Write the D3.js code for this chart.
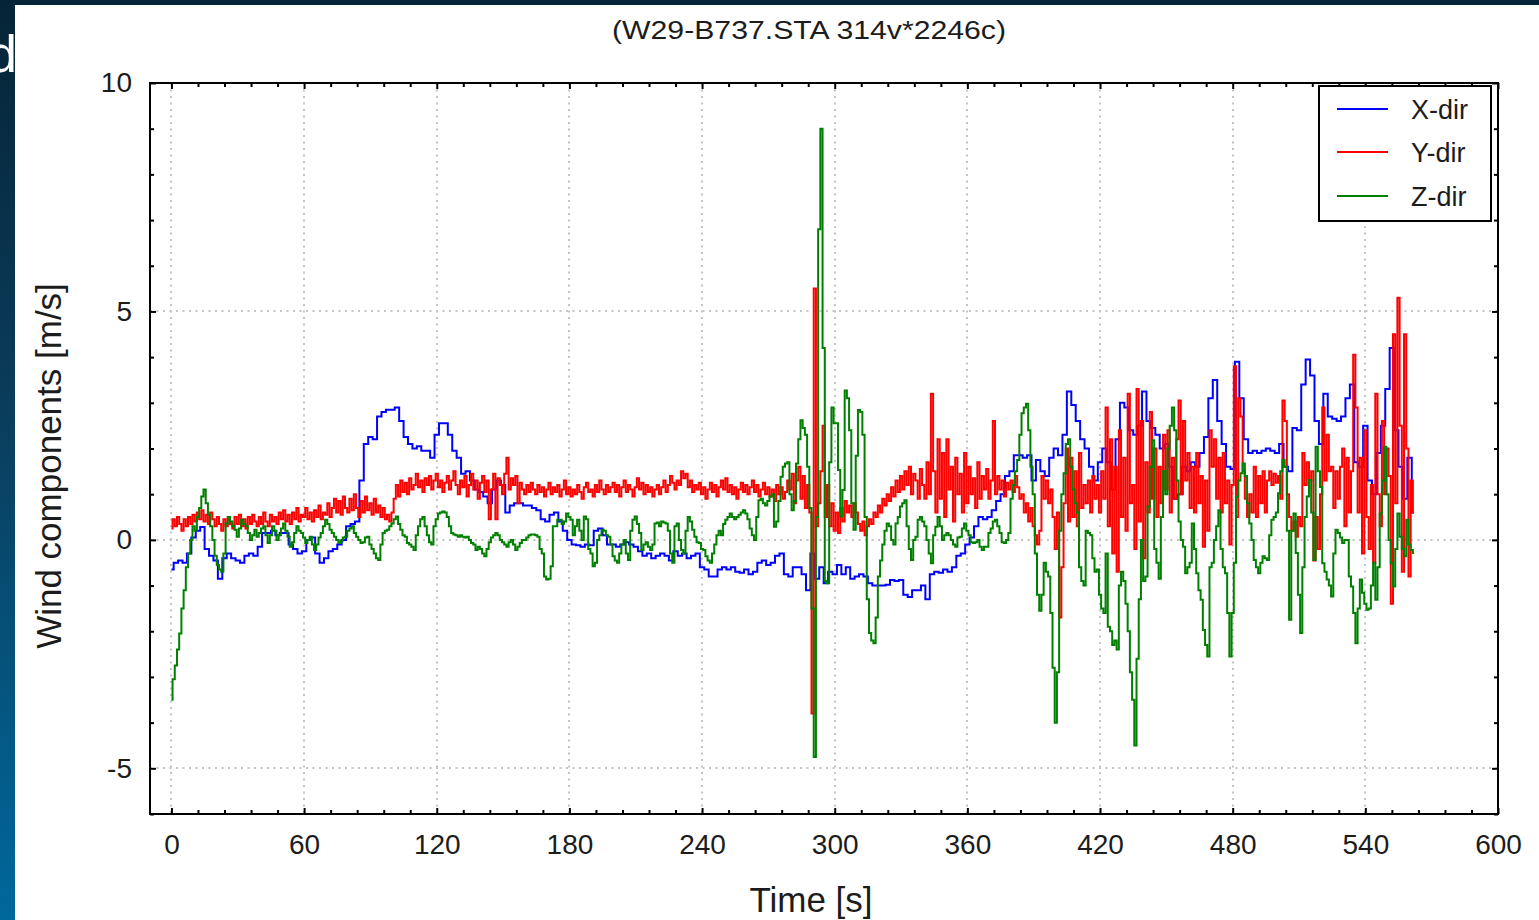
<!DOCTYPE html>
<html>
<head>
<meta charset="utf-8">
<script src="https://cdn.jsdelivr.net/npm/d3@7"></script>
<style>
  html, body { margin: 0; padding: 0; background: #ffffff; }
  svg { display: block; }
</style>
</head>
<body>
<svg id="chart" width="1539" height="920"></svg>
<script>
// ---- labels ----
const chartTitle = "(W29-B737.STA 314v*2246c)";
const xAxisTitle = "Time [s]";
const yAxisTitle = "Wind components [m/s]";
const seriesNames = ["X-dir", "Y-dir", "Z-dir"];
const seriesColors = ["#0000ff", "#ff0000", "#008000"];

// ---- ticks ----
const xMajorTicks = [0, 60, 120, 180, 240, 300, 360, 420, 480, 540, 600];
const yMajorTicks = [-5, 0, 5, 10];
const xMinorStep = 12;
const yMinorStep = 1;

// ---- sample spacing (s) of each series ----
const xDirStep = 2;
const yDirStep = 1;
const zDirStep = 1;

// X-dir wind component [m/s], one value every 2 s from t = 0
const xDir = [
  -0.65, -0.5, -0.45, -0.5, -0.3, 0.05, 0.2, 0.28, -0.2, -0.35,
  -0.45, -0.85, -0.4, -0.3, -0.4, -0.45, -0.5, -0.35, -0.3, -0.35,
  -0.15, 0.15, 0.15, 0.2, 0.1, 0.15, 0.15, -0.1, -0.2, -0.3,
  -0.25, 0.0, 0.05, -0.3, -0.5, -0.4, -0.25, -0.2, -0.1, 0.0,
  0.3, 0.35, 0.4, 1.3, 2.1, 2.25, 2.2, 2.7, 2.8, 2.85,
  2.85, 2.9, 2.6, 2.25, 2.1, 2.0, 2.05, 1.95, 1.95, 1.8,
  2.3, 2.55, 2.55, 2.3, 1.95, 1.8, 1.45, 1.5, 1.3, 1.1,
  1.05, 0.95, 0.8, 1.1, 1.3, 1.2, 0.6, 0.75, 0.8, 0.8,
  0.75, 0.75, 0.7, 0.65, 0.45, 0.4, 0.55, 0.6, 0.4, 0.2,
  0.0, -0.1, -0.12, -0.15, -0.1, -0.12, 0.2, 0.25, 0.1, -0.1,
  -0.1, -0.15, -0.1, -0.05, -0.1, -0.15, -0.25, -0.35, -0.3, -0.4,
  -0.35, -0.3, -0.35, -0.45, -0.25, -0.35, -0.3, -0.4, -0.35, -0.3,
  -0.6, -0.65, -0.8, -0.8, -0.65, -0.6, -0.65, -0.6, -0.7, -0.72,
  -0.65, -0.75, -0.7, -0.5, -0.45, -0.55, -0.5, -0.35, -0.3, -0.75,
  -0.8, -0.6, -0.6, -0.75, -1.1, -0.3, -0.85, -0.6, -0.95, -0.7,
  -0.75, -0.55, -0.75, -0.6, -0.85, -0.8, -0.75, -0.8, -0.95, -1.0,
  -1.0, -1.0, -0.98, -0.88, -0.9, -0.88, -1.2, -1.25, -1.1, -1.1,
  -1.0, -1.3, -0.75, -0.7, -0.72, -0.65, -0.7, -0.6, -0.35, -0.3,
  -0.1, 0.05, 0.3, 0.5, 0.45, 0.5, 0.65, 0.85, 1.0, 1.4,
  1.5, 1.85, 1.85, 1.8, 1.85, 1.3, 1.75, 1.5, 1.4, 1.8,
  2.0, 1.85, 2.3, 3.25, 2.95, 2.6, 2.2, 2.0, 1.6, 1.3,
  1.7, 2.0, 1.7, 1.1, 2.2, 3.0, 2.9, 2.4, 2.3, 2.5,
  3.25, 2.6, 2.45, 2.3, 2.0, 2.1, 1.6, 0.9, 1.0, 1.6,
  1.5, 1.7, 1.6, 1.9, 2.25, 3.1, 3.5, 2.6, 2.1, 1.6,
  1.55, 3.9, 3.1, 2.2, 1.9, 1.95, 1.9, 1.95, 2.0, 1.95,
  1.9, 2.1, 1.6, 1.5, 2.45, 2.4, 3.4, 3.95, 3.6, 2.6,
  2.1, 3.2, 2.7, 2.65, 2.6, 2.7, 3.1, 3.4, 1.7, 1.6,
  2.5, 1.3, 1.0, 1.9, 2.5, 3.3, 4.2, 2.4, 1.6, 0.9,
  1.8, 0.6
];

// Y-dir wind component [m/s], one value every 1 s from t = 0
const yDir = [
  0.25, 0.45, 0.3, 0.5, 0.35, 0.2, 0.45, 0.3, 0.5, 0.35,
  0.55, 0.4, 0.6, 0.45, 0.65, 0.4, 0.55, 0.35, 0.6, 0.45,
  0.3, 0.5, 0.35, 0.2, 0.45, 0.3, 0.5, 0.35, 0.25, 0.5,
  0.35, 0.55, 0.3, 0.45, 0.25, 0.5, 0.35, 0.55, 0.4, 0.3,
  0.5, 0.35, 0.6, 0.4, 0.3, 0.55, 0.4, 0.5, 0.35, 0.6,
  0.45, 0.65, 0.4, 0.55, 0.35, 0.6, 0.45, 0.7, 0.4, 0.55,
  0.5, 0.7, 0.45, 0.6, 0.4, 0.65, 0.5, 0.75, 0.45, 0.6,
  0.55, 0.8, 0.5, 0.7, 0.9, 0.6, 0.85, 0.55, 0.95, 0.7,
  0.6, 0.9, 0.65, 1.0, 0.7, 0.5, 0.85, 0.6, 0.95, 0.65,
  0.8, 0.55, 0.9, 0.6, 0.75, 0.5, 0.7, 0.45, 0.55, 0.4,
  0.6, 0.9, 1.2, 0.95, 1.3, 1.05, 1.25, 1.0, 1.35, 1.1,
  1.2, 1.45, 1.15, 1.3, 1.05, 1.35, 1.2, 1.4, 1.1, 1.3,
  1.45, 1.15, 1.3, 1.05, 1.25, 1.4, 1.1, 1.3, 1.5, 1.2,
  1.0, 1.3, 1.15, 1.4, 0.95, 1.2, 1.45, 1.1, 1.3, 0.9,
  1.25, 1.4, 1.05, 1.3, 0.45, 1.1, 1.45, 0.45, 1.35, 1.2,
  1.0, 1.45, 1.8, 1.1, 1.35, 1.2, 1.4, 0.8, 1.25, 1.1,
  1.0, 1.2, 1.05, 1.25, 1.1, 1.0, 1.2, 1.05, 1.15, 0.95,
  1.1, 1.25, 1.0, 1.15, 1.05, 1.2, 0.95, 1.1, 1.3, 1.0,
  1.15, 0.95, 1.1, 1.0, 1.2, 1.05, 0.9, 1.15, 1.25, 1.05,
  1.1, 0.95, 1.2, 1.05, 1.3, 1.1, 1.0, 1.2, 1.05, 1.15,
  1.25, 1.05, 1.2, 0.95, 1.15, 1.3, 1.05, 1.2, 1.1, 0.95,
  1.15, 1.35, 1.1, 1.25, 1.0, 1.2, 1.05, 1.15, 0.95, 1.1,
  1.2, 1.0, 1.15, 1.3, 1.05, 1.2, 1.4, 1.25, 1.1, 1.3,
  1.2, 1.5, 1.35, 1.45, 1.15, 1.3, 1.05, 1.2, 1.1, 1.25,
  1.0, 1.15, 0.9, 1.1, 1.25, 1.05, 1.2, 0.95, 1.15, 1.3,
  1.1, 1.35, 1.05, 1.2, 1.0, 1.15, 0.9, 1.1, 1.25, 1.05,
  1.2, 1.0, 1.15, 1.3, 1.05, 1.2, 0.95, 1.1, 1.25, 1.0,
  1.15, 0.95, 1.1, 0.85, 1.2, 1.0, 1.15, 0.9, 1.05, 1.3,
  1.1, 1.45, 0.8, 1.3, 1.6, 0.9, 1.4, 0.7, 1.2, 0.6,
  -3.8, 5.5, 0.3, 0.8, 1.5, 2.5, 0.5, 1.2, 0.3, 0.8,
  0.2, 0.6, 0.15, 0.7, 0.4, 0.85, 0.6, 0.75, 0.5, 0.8,
  0.6, 0.35, 0.2, 0.4, 0.1, 0.3, 0.45, 0.35, 0.6, 0.5,
  0.75, 0.6, 0.9, 0.75, 1.0, 0.85, 1.15, 0.95, 1.3, 1.05,
  1.4, 1.1, 1.5, 1.2, 1.6, 1.0, 1.45, 1.3, 0.9, 1.55,
  1.2, 0.9, 1.7, 1.0, 3.2, 1.5, 0.6, 2.2, 0.9, 1.9,
  0.5, 2.2, 1.1, 1.6, 0.4, 1.8, 1.0, 1.45, 0.6, 1.9,
  0.8, 1.6, 1.0, 1.35, 0.7, 1.7, 0.9, 1.4, 1.1, 1.55,
  0.9, 1.3, 2.6, 1.0, 1.4, 1.1, 1.3, 0.95, 1.25, 1.1,
  1.3, 1.05, 1.4, 1.15, 0.9, 1.0, 0.6, 0.8, 0.4, 0.7,
  0.3, 0.1, -0.1, 0.2, 1.4, 0.9, 1.3, 0.8, 1.1, 0.5,
  -0.2, 0.6, -1.7, -0.6, 0.8, 2.0, 0.4, 1.8, 0.5, 1.5,
  0.3, 1.9, 0.7, 1.2, 0.8, 1.3, 0.6, 1.4, 0.9, 1.2,
  0.6, 1.5, 0.9, 2.9, 0.3, 2.2, -0.3, 1.6, -0.7, 2.4,
  0.5, 1.8, 0.2, 3.2, 0.8, 1.2, -0.2, 3.3, 0.4, 2.6,
  -0.4, 1.7, 0.6, 2.8, 0.9, 2.0, 0.5, 1.6, 0.8, 2.3,
  1.1, 2.4, 0.6, 1.8, 0.9, 2.2, 3.05, 1.0, 2.6, 1.3,
  1.9, 0.7, 1.6, 0.6, 1.9, 0.8, 1.4, -0.15, 1.3, 0.2,
  2.4, 1.6, 2.2, 0.9, 1.8, 0.6, 1.9, 0.8, 1.3, -0.1,
  1.2, 3.8, 0.5, 3.1, 2.7, 1.5, 0.9, 0.5, 1.0, 0.6,
  1.6, 0.5, 1.4, 0.8, 1.5, 0.6, 1.3, 1.5, 1.2, 1.45,
  1.25, 1.4, 0.9, 3.05, 2.6, 1.0, 0.5, 0.2, 0.4, 0.07,
  0.5, 0.3, 1.9, 1.2, 1.7, 1.3, 1.5, -0.45, 0.5, -0.2,
  1.0, 2.9, 1.3, 2.3, 1.5, 1.6, 0.7, 1.5, 0.9, 1.6,
  2.0, 0.3, 1.8, 0.6, 1.5, 4.05, 2.9, 0.6, 1.8, -0.3,
  2.4, 0.5, -0.2, 1.2, -0.5, 3.2, 1.0, 0.3, 2.6, 1.0,
  2.0, 1.4, -1.4, 4.5, 0.8, 5.3, 2.5, -0.7, 4.5, 2.0,
  -0.8, 1.3, 0.6
];

// Z-dir wind component [m/s], one value every 1 s from t = 0
const zDir = [
  -3.5, -3.05, -2.75, -2.4, -2.05, -1.5, -1.1, -0.6, -0.3, 0.0,
  0.3, 0.2, 0.5, 0.7, 0.95, 1.1, 0.8, 0.55, 0.3, 0.0,
  -0.35, -0.55, -0.65, -0.7, -0.3, 0.36, 0.5, 0.4, 0.3, 0.22,
  0.07, 0.25, 0.44, 0.35, 0.3, 0.15, 0.0, 0.1, 0.22, 0.07,
  0.15, 0.25, 0.3, 0.1, -0.07, 0.1, 0.3, 0.2, 0.0, 0.1,
  0.25, 0.36, 0.2, 0.07, -0.15, -0.05, 0.15, 0.3, 0.2, 0.15,
  0.05, -0.07, 0.0, 0.07, -0.1, -0.22, -0.1, 0.05, 0.15, 0.3,
  0.44, 0.35, 0.22, 0.15, 0.07, 0.0, -0.07, -0.02, 0.05, 0.07,
  0.2, 0.25, 0.3, 0.15, 0.07, 0.0, -0.07, -0.05, 0.05, 0.07,
  -0.1, -0.2, -0.3, -0.4, -0.44, -0.1, 0.15, 0.2, 0.22, 0.3,
  0.36, 0.45, 0.51, 0.35, 0.22, 0.1, 0.07, -0.07, -0.1, -0.15,
  -0.22, 0.1, 0.3, 0.45, 0.5, 0.3, 0.1, -0.05, -0.1, 0.3,
  0.45, 0.58, 0.6, 0.62, 0.6, 0.5, 0.3, 0.15, 0.12, 0.1,
  0.07, 0.1, 0.07, 0.05, 0.07, 0.0, -0.07, -0.1, -0.22, -0.15,
  -0.2, -0.3, -0.36, -0.2, -0.05, 0.05, 0.1, 0.15, 0.1, 0.0,
  -0.05, -0.1, -0.15, -0.05, 0.0, -0.1, -0.22, -0.15, -0.07, 0.0,
  0.0, 0.05, 0.1, 0.12, 0.12, 0.1, 0.07, -0.2, -0.3, -0.8,
  -0.87, -0.85, -0.58, 0.3, 0.3, 0.44, 0.44, 0.35, 0.4, 0.58,
  0.5, 0.44, 0.1, 0.3, 0.44, 0.2, 0.0, 0.51, 0.45, -0.2,
  -0.3, -0.58, -0.5, 0.0, 0.1, 0.22, 0.2, 0.1, 0.07, -0.1,
  -0.36, -0.45, -0.5, -0.3, -0.1, 0.0, -0.3, -0.44, 0.2, 0.44,
  0.51, 0.35, 0.15, -0.22, -0.1, -0.05, -0.15, -0.22, -0.1, 0.36,
  0.38, 0.3, 0.4, 0.38, 0.36, 0.2, -0.3, -0.5, 0.3, 0.36,
  0.0, -0.22, -0.3, 0.2, 0.5, 0.4, 0.22, 0.07, -0.05, -0.07,
  -0.2, -0.22, -0.36, -0.45, -0.5, -0.3, -0.1, 0.1, 0.2, 0.1,
  0.35, 0.44, 0.5, 0.58, 0.5, 0.45, 0.5, 0.55, 0.6, 0.65,
  0.58, 0.45, 0.25, 0.1, 0.0, 0.5, 0.87, 0.9, 0.8, 0.75,
  0.85, 0.95, 1.0, 0.29, 0.4, 0.85, 1.38, 1.6, 1.67, 1.7,
  1.0, 0.65, 0.85, 1.67, 2.2, 2.62, 2.45, 2.3, 1.6, 0.7,
  -1.5, -4.75, 0.5, 6.8, 9.0, 4.2, -0.9, -0.95, 1.7, 2.9,
  2.55, 2.55, 1.53, 0.51, 1.09, 3.27, 3.1, 2.4, 0.8, 0.22,
  1.84, 2.84, 2.8, 2.3, 0.5, -1.3, -2.04, -2.2, -2.26, -1.7,
  -0.8, -0.45, -0.1, 0.2, 0.36, 0.3, 0.0, -0.1, 0.36, 0.5,
  0.73, 0.8, 0.87, 0.3, -0.2, -0.44, 0.0, 0.07, 0.44, 0.5,
  0.4, 0.3, 0.0, -0.3, -0.51, 0.1, 0.29, 0.5, 0.3, 0.0,
  0.1, 0.15, 0.1, 0.0, -0.1, -0.15, 0.05, 0.07, 0.25, 0.36,
  0.2, 0.1, -0.05, -0.07, -0.05, 0.0, -0.15, -0.22, -0.15, -0.15,
  0.15, 0.25, 0.4, 0.44, 0.3, 0.15, -0.05, -0.07, 0.0, 0.15,
  0.9, 1.2, 1.5, 1.75, 2.3, 2.77, 2.9, 2.98, 2.4, 1.6,
  1.0, -0.3, -1.2, -1.55, -1.2, -0.5, -0.7, -0.8, -1.6, -2.8,
  -4.0, -2.9, 0.2, 1.0, 1.46, 2.1, 2.2, 1.6, 1.1, 0.8,
  0.6, -0.6, -0.9, -1.0, 0.2, 0.15, 0.1, -0.4, -0.7, -0.65,
  -1.2, -1.5, -1.6, -0.3, -1.9, -2.0, -2.3, -2.2, -2.4, -1.0,
  -0.7, -0.9, -1.4, -2.0, -2.9, -3.5, -4.5, -2.6, -1.3, 0.0,
  -0.9, -0.8, 0.73, 1.6, 2.18, -0.2, -0.5, -0.85, 0.5, 1.5,
  1.0, 2.0, 2.5, 2.9, 2.4, 1.3, 0.4, 0.0, -0.15, -0.73,
  -0.6, -0.5, 0.36, -0.2, -0.73, -1.1, -1.31, -1.97, -2.3, -2.55,
  -0.6, -0.5, 0.0, 0.3, 0.65, -0.2, -0.6, -0.73, -1.6, -2.55,
  -1.6, -0.5, 0.95, 1.3, 1.46, 1.67, 1.4, 0.8, 0.36, 0.0,
  -0.44, -0.6, -0.73, -0.5, -0.36, -0.4, -0.44, 0.1, 0.44, 0.5,
  0.6, 1.02, 1.5, 1.75, 1.6, 0.2, -1.75, 0.2, 0.58, -0.29,
  -1.2, -2.04, -0.6, 0.5, 0.95, 1.31, 0.6, -0.44, 2.04, 1.5,
  1.16, -0.51, -0.7, -0.87, -1.0, -1.24, -0.3, 0.22, 0.15, 0.05,
  -0.07, 0.0, 0.0, -0.8, -1.02, -1.6, -2.26, -1.5, -0.87, -1.16,
  -1.4, -1.53, -1.5, -1.0, -0.5, -1.31, -0.6, 0.58, 1.3, 2.04,
  1.0, 0.0, -0.51, -1.02, -0.2, 0.58, 0.07, -0.2, -0.36, 0.44,
  -0.1, -0.22, -0.29
];

// ---------------------------------------------------------------
const svg = d3.select("#chart");
const W = 1539, H = 920;
const plot = { left: 150, right: 1498, top: 83, bottom: 814 };
const font = "'Liberation Sans', Arial, sans-serif";
const ink = "#1c1c1c";

// slide backdrop behind the white chart panel
const defs = svg.append("defs");
const grad = defs.append("linearGradient").attr("id", "slideBg")
  .attr("x1", 0).attr("y1", 0).attr("x2", 0).attr("y2", 1);
grad.append("stop").attr("offset", "0%").attr("stop-color", "#062437");
grad.append("stop").attr("offset", "45%").attr("stop-color", "#0a3d5c");
grad.append("stop").attr("offset", "100%").attr("stop-color", "#00689c");
svg.append("rect").attr("width", W).attr("height", H).attr("fill", "url(#slideBg)");
svg.append("text")
  .attr("x", 17).attr("y", 72)
  .attr("text-anchor", "end")
  .attr("font-family", font).attr("font-size", 52)
  .attr("fill", "#ffffff")
  .text("d");
svg.append("rect").attr("x", 15).attr("y", 5).attr("width", W - 15).attr("height", H - 5)
  .attr("fill", "#ffffff");

// scales
const x = d3.scaleLinear().domain([-9.7, 600]).range([plot.left, plot.right]);
const y = d3.scaleLinear().domain([-6, 10]).range([plot.bottom, plot.top]);

const xMinorTicks = d3.range(0, 600 + 1e-9, xMinorStep).filter(v => v % 60 !== 0);
const yMinorTicks = d3.range(-6, 10 + 1e-9, yMinorStep).filter(v => v % 5 !== 0);
const plainNumber = d => String(d);

// dotted grid
const grid = svg.append("g")
  .attr("stroke", "#c4c4c4").attr("stroke-width", 2)
  .attr("stroke-dasharray", "2,4.5");
grid.selectAll(".gx").data(xMajorTicks.filter(v => v < 600)).enter().append("line")
  .attr("x1", d => Math.round(x(d))).attr("x2", d => Math.round(x(d)))
  .attr("y1", plot.top).attr("y2", plot.bottom);
grid.selectAll(".gy").data(yMajorTicks.filter(v => v < 10)).enter().append("line")
  .attr("y1", d => Math.round(y(d))).attr("y2", d => Math.round(y(d)))
  .attr("x1", plot.left).attr("x2", plot.right);

// series, drawn as sample-and-hold steps
defs.append("clipPath").attr("id", "plotClip").append("rect")
  .attr("x", plot.left).attr("y", plot.top)
  .attr("width", plot.right - plot.left).attr("height", plot.bottom - plot.top);

const series = [
  { name: seriesNames[0], color: seriesColors[0], step: xDirStep, values: xDir },
  { name: seriesNames[1], color: seriesColors[1], step: yDirStep, values: yDir },
  { name: seriesNames[2], color: seriesColors[2], step: zDirStep, values: zDir }
];
const line = d3.line().curve(d3.curveStep).x(d => x(d[0])).y(d => y(d[1]));
const lines = svg.append("g").attr("clip-path", "url(#plotClip)");
series.forEach(s => {
  const pts = s.values.map((v, i) => [i * s.step, v]);
  lines.append("path")
    .datum(pts)
    .attr("fill", "none")
    .attr("stroke", s.color)
    .attr("stroke-width", 2)
    .attr("stroke-linejoin", "miter")
    .attr("d", line);
});

// axes: ticks point inward on all four sides
function styleAxis(g) {
  g.select(".domain").remove();
  g.selectAll(".tick line").attr("stroke", "#000").attr("stroke-width", 2);
  g.selectAll("text").attr("font-family", font).attr("font-size", 28).attr("fill", ink);
}
svg.append("g").attr("transform", `translate(0,${plot.bottom})`)
  .call(d3.axisBottom(x).tickValues(xMajorTicks).tickSize(-6).tickPadding(20).tickFormat(plainNumber))
  .call(styleAxis);
svg.append("g").attr("transform", `translate(0,${plot.bottom})`)
  .call(d3.axisBottom(x).tickValues(xMinorTicks).tickSize(-4).tickFormat(""))
  .call(styleAxis);
svg.append("g").attr("transform", `translate(0,${plot.top})`)
  .call(d3.axisTop(x).tickValues(xMajorTicks).tickSize(-6).tickFormat(""))
  .call(styleAxis);
svg.append("g").attr("transform", `translate(0,${plot.top})`)
  .call(d3.axisTop(x).tickValues(xMinorTicks).tickSize(-4).tickFormat(""))
  .call(styleAxis);
svg.append("g").attr("transform", `translate(${plot.left},0)`)
  .call(d3.axisLeft(y).tickValues(yMajorTicks).tickSize(-6).tickPadding(18).tickFormat(plainNumber))
  .call(styleAxis);
svg.append("g").attr("transform", `translate(${plot.left},0)`)
  .call(d3.axisLeft(y).tickValues(yMinorTicks).tickSize(-4).tickFormat(""))
  .call(styleAxis);
svg.append("g").attr("transform", `translate(${plot.right},0)`)
  .call(d3.axisRight(y).tickValues(yMajorTicks).tickSize(-6).tickFormat(""))
  .call(styleAxis);
svg.append("g").attr("transform", `translate(${plot.right},0)`)
  .call(d3.axisRight(y).tickValues(yMinorTicks).tickSize(-4).tickFormat(""))
  .call(styleAxis);

// frame
svg.append("rect")
  .attr("x", plot.left).attr("y", plot.top)
  .attr("width", plot.right - plot.left).attr("height", plot.bottom - plot.top)
  .attr("fill", "none").attr("stroke", "#000").attr("stroke-width", 2);

// titles
svg.append("text")
  .attr("x", 809).attr("y", 39)
  .attr("text-anchor", "middle")
  .attr("font-family", font).attr("font-size", 25).attr("fill", ink)
  .attr("textLength", 394).attr("lengthAdjust", "spacingAndGlyphs")
  .text(chartTitle);
svg.append("text")
  .attr("x", 811).attr("y", 912)
  .attr("text-anchor", "middle")
  .attr("font-family", font).attr("font-size", 35).attr("fill", ink)
  .text(xAxisTitle);
svg.append("text")
  .attr("transform", "translate(61,466) rotate(-90)")
  .attr("text-anchor", "middle")
  .attr("font-family", font).attr("font-size", 35).attr("fill", ink)
  .text(yAxisTitle);

// legend
const legend = svg.append("g");
legend.append("rect")
  .attr("x", 1319).attr("y", 86).attr("width", 172).attr("height", 135)
  .attr("fill", "#ffffff").attr("stroke", "#000").attr("stroke-width", 2);
const legendY = [109, 152, 196];
series.forEach((s, i) => {
  legend.append("line")
    .attr("x1", 1337).attr("x2", 1388)
    .attr("y1", legendY[i]).attr("y2", legendY[i])
    .attr("stroke", s.color).attr("stroke-width", 2);
  legend.append("text")
    .attr("x", 1411).attr("y", legendY[i] + 10)
    .attr("font-family", font).attr("font-size", 27).attr("fill", ink)
    .text(s.name);
});
</script>
</body>
</html>
